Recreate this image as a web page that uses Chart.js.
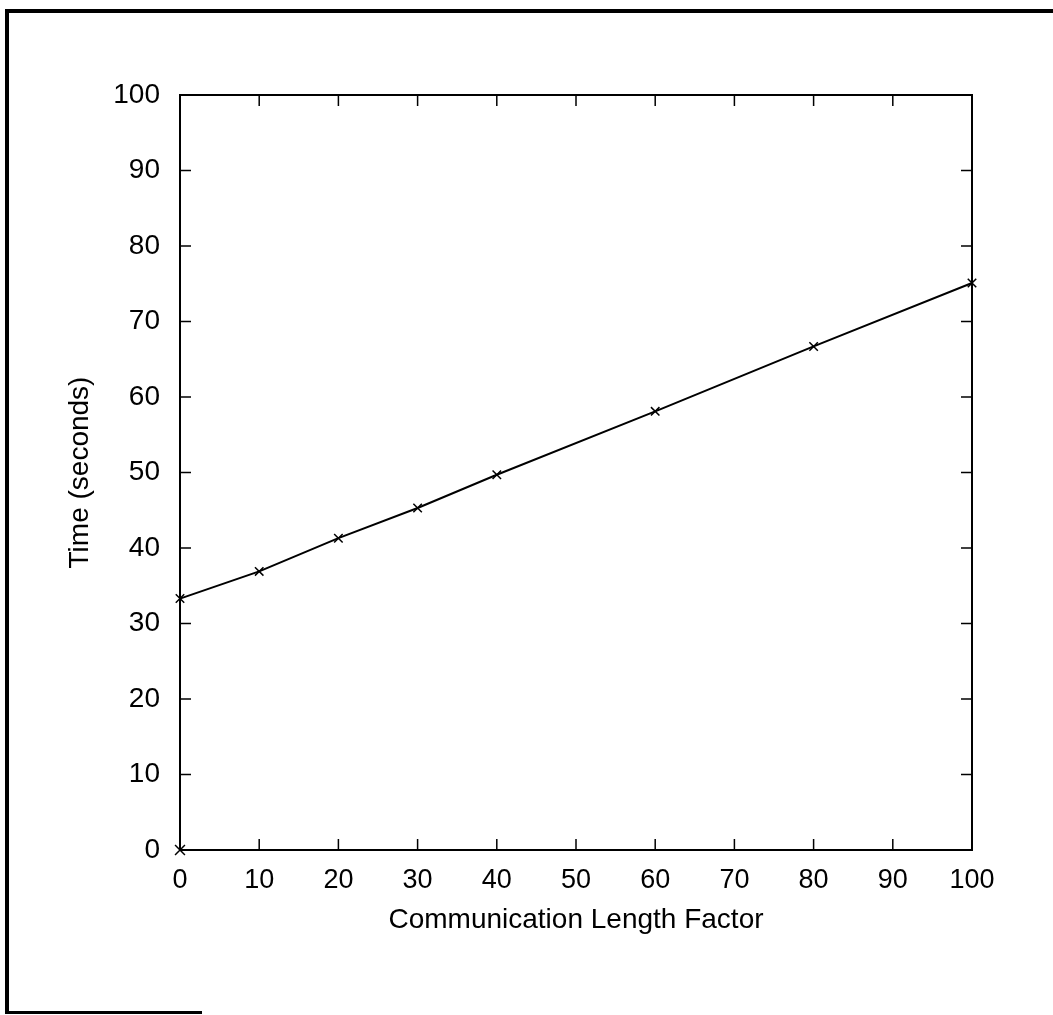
<!DOCTYPE html>
<html>
<head>
<meta charset="utf-8">
<script src="https://cdn.jsdelivr.net/npm/chart.js@4/dist/chart.umd.min.js"></script>
<style>
  html, body { margin: 0; padding: 0; background: #fff; }
  #wrap { position: relative; width: 1053px; height: 1015px; overflow: hidden; }
  #frame-top { position: absolute; left: 5px; top: 9px; width: 1048px; height: 4px; background: #000; }
  #frame-left { position: absolute; left: 5px; top: 9px; width: 4px; height: 1005px; background: #000; }
  #frame-bottom { position: absolute; left: 5px; top: 1011px; width: 197px; height: 3px; background: #000; }
</style>
</head>
<body>
<div id="wrap">
  <canvas id="chart"></canvas>
  <div id="frame-top"></div>
  <div id="frame-left"></div>
  <div id="frame-bottom"></div>
</div>
<script>
// values
const lengthFactor = [0, 10, 20, 30, 40, 60, 80, 100];
const timeSeconds = [33.3, 36.9, 41.3, 45.3, 49.7, 58.1, 66.7, 75.1];
const extraPoint = [{ x: 0, y: 0 }];
const xTicks = [0, 10, 20, 30, 40, 50, 60, 70, 80, 90, 100];
const yTicks = [0, 10, 20, 30, 40, 50, 60, 70, 80, 90, 100];

const font = "'Liberation Sans', Arial, Helvetica, sans-serif";

// inward ticks on all four sides, like the original plot
const inwardTicks = {
  id: "inwardTicks",
  afterDatasetsDraw(chart) {
    const { ctx, chartArea: a, scales: { x, y } } = chart;
    const len = 11;
    ctx.save();
    ctx.strokeStyle = "#000";
    ctx.lineWidth = 1.5;
    ctx.beginPath();
    xTicks.forEach(v => {
      const px = x.getPixelForValue(v);
      ctx.moveTo(px, a.bottom); ctx.lineTo(px, a.bottom - len);
      ctx.moveTo(px, a.top); ctx.lineTo(px, a.top + len);
    });
    yTicks.forEach(v => {
      const py = y.getPixelForValue(v);
      ctx.moveTo(a.left, py); ctx.lineTo(a.left + len, py);
      ctx.moveTo(a.right, py); ctx.lineTo(a.right - len, py);
    });
    ctx.stroke();
    ctx.lineWidth = 2;
    ctx.strokeRect(a.left, a.top, a.right - a.left, a.bottom - a.top);
    ctx.restore();
  }
};

const ctx = document.getElementById("chart").getContext("2d");

new Chart(ctx, {
  type: "scatter",
  data: {
    datasets: [{
      label: "time",
      data: lengthFactor.map((v, i) => ({ x: v, y: timeSeconds[i] })),
      showLine: true,
      borderColor: "#000",
      borderWidth: 2,
      pointStyle: "crossRot",
      pointRadius: 6,
      pointBorderWidth: 1.5,
      pointBorderColor: "#000"
    }, {
      label: "origin",
      data: extraPoint,
      showLine: false,
      pointStyle: "crossRot",
      pointRadius: 7,
      pointBorderWidth: 1.5,
      pointBorderColor: "#000"
    }]
  },
  options: {
    responsive: true,
    maintainAspectRatio: false,
    animation: false,
    clip: false,
    layout: {
      padding: { left: 59, right: 81, top: 95, bottom: 74 }
    },
    plugins: {
      legend: { display: false },
      tooltip: { enabled: false }
    },
    scales: {
      x: {
        type: "linear",
        min: 0,
        max: 100,
        afterFit: s => { s.height = 91; },
        afterBuildTicks: s => { s.ticks = xTicks.map(v => ({ value: v })); },
        grid: { display: false, drawTicks: false },
        border: { display: false },
        ticks: {
          color: "#000",
          padding: 14,
          maxRotation: 0,
          font: { family: font, size: 27 }
        },
        title: {
          display: true,
          text: "Communication Length Factor",
          color: "#000",
          font: { family: font, size: 28 }
        }
      },
      y: {
        type: "linear",
        min: 0,
        max: 100,
        afterFit: s => { s.width = 121; },
        afterBuildTicks: s => { s.ticks = yTicks.map(v => ({ value: v })); },
        grid: { display: false, drawTicks: false },
        border: { display: false },
        ticks: {
          color: "#000",
          padding: 20,
          font: { family: font, size: 28 }
        },
        title: {
          display: true,
          text: "Time (seconds)",
          color: "#000",
          font: { family: font, size: 28 }
        }
      }
    }
  },
  plugins: [inwardTicks]
});
</script>
</body>
</html>
